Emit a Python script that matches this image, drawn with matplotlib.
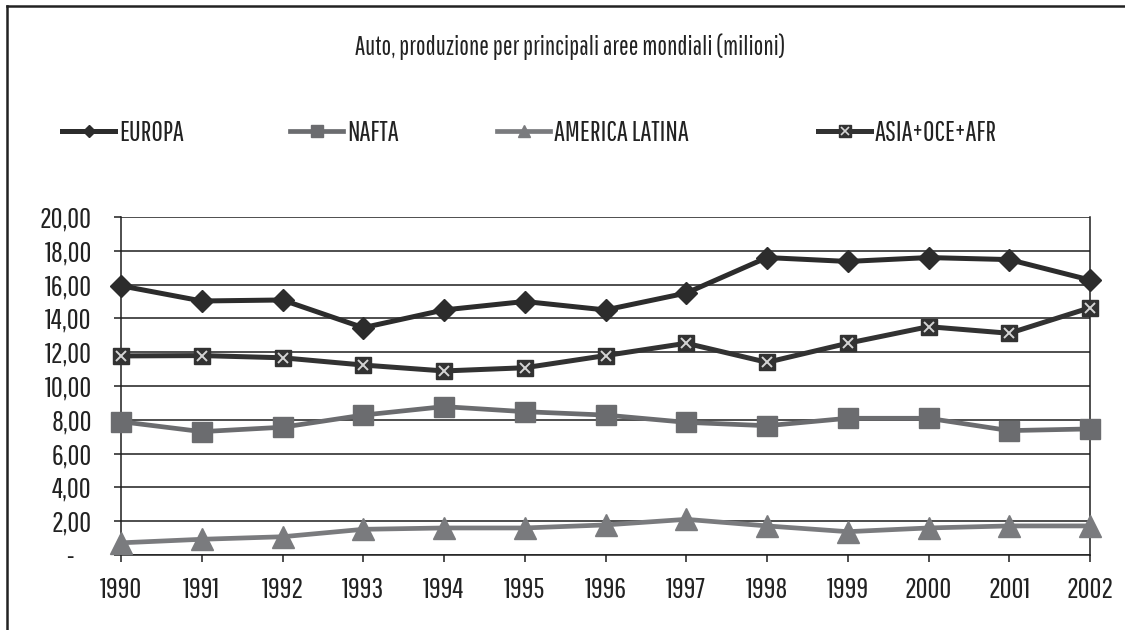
import matplotlib
matplotlib.use("Agg")
import matplotlib.pyplot as plt
from matplotlib.lines import Line2D

plt.rcParams['font.family'] = ['Pathway Gothic One', 'Barlow Condensed', 'DejaVu Sans']

years = [1990, 1991, 1992, 1993, 1994, 1995, 1996, 1997, 1998, 1999, 2000, 2001, 2002]
europa = [15.93, 15.03, 15.09, 13.45, 14.50, 15.00, 14.50, 15.50, 17.60, 17.37, 17.60, 17.48, 16.27]
nafta = [7.89, 7.30, 7.56, 8.28, 8.78, 8.48, 8.28, 7.85, 7.65, 8.09, 8.09, 7.36, 7.46]
america_latina = [0.72, 0.93, 1.08, 1.52, 1.60, 1.60, 1.78, 2.11, 1.72, 1.38, 1.60, 1.72, 1.72]
asia_oce_afr = [11.78, 11.80, 11.67, 11.24, 10.89, 11.08, 11.80, 12.53, 11.40, 12.53, 13.51, 13.12, 14.63]
series_names = ["EUROPA", "NAFTA", "AMERICA LATINA", "ASIA+OCE+AFR"]
yticks = [0, 2, 4, 6, 8, 10, 12, 14, 16, 18, 20]
ytick_labels = ["-    ", "2,00", "4,00", "6,00", "8,00", "10,00", "12,00", "14,00", "16,00", "18,00", "20,00"]
title = "Auto, produzione per principali aree mondiali (milioni)"

W, H = 1125, 630
fig = plt.figure(figsize=(W / 100, H / 100), dpi=100)
ax = fig.add_axes([121 / W, 1 - 555 / H, (1090 - 121) / W, (555 - 217) / H])

c_eu = '#2c2c2c'
c_na = '#6b6c6f'
c_la = '#7a7b7e'
c_as = '#323232'
c_x = '#d4d4d4'

ax.plot(years, europa, color=c_eu, lw=3.6, marker='D', ms=11, mfc=c_eu, mec=c_eu,
        clip_on=False, zorder=5)
ax.plot(years, nafta, color=c_na, lw=3.4, marker='s', ms=14.5, mfc=c_na, mec=c_na,
        clip_on=False, zorder=4)
ax.plot(years, america_latina, color=c_la, lw=3.4, marker='^', ms=16, mfc=c_la, mec=c_la,
        clip_on=False, zorder=4)
ax.plot(years, asia_oce_afr, color=c_as, lw=3.6, marker='s', ms=11, mfc=c_as, mec=c_as,
        clip_on=False, zorder=5)
ax.plot(years, asia_oce_afr, ls='none', marker='x', ms=7.5, mew=1.4, color=c_x,
        clip_on=False, zorder=6)

ax.set_xlim(years[0], years[-1])
ax.set_ylim(0, 20)
ax.set_yticks(yticks)
ax.set_yticklabels(ytick_labels)
ax.set_xticks(years)
ax.set_xticklabels([str(y) for y in years])
ax.grid(axis='y', color='#1e1e1e', lw=1.1)
ax.set_axisbelow(True)
for s in ['left', 'bottom', 'right']:
    ax.spines[s].set_color('#1e1e1e')
    ax.spines[s].set_linewidth(1.1)
ax.spines['top'].set_visible(False)
ax.tick_params(axis='y', length=5, width=1.1, color='#1e1e1e', pad=16, labelsize=21,
               labelcolor='#222222')
ax.tick_params(axis='x', length=5, width=1.1, color='#1e1e1e', pad=11, labelsize=21,
               labelcolor='#222222')

fig.text(570 / W, 1 - 47 / H, title, ha='center', va='center', fontsize=18.5, color='#222222')

# legend entries
handles = [
    Line2D([], [], color=c_eu, lw=3.6, marker='D', ms=6, mfc=c_eu, mec=c_eu),
    Line2D([], [], color=c_na, lw=3.4, marker='s', ms=8, mfc=c_na, mec=c_na),
    Line2D([], [], color=c_la, lw=3.4, marker='^', ms=9, mfc=c_la, mec=c_la),
    (Line2D([], [], color=c_as, lw=3.6, marker='s', ms=9, mfc=c_as, mec=c_as),
     Line2D([], [], ls='none', marker='x', ms=6, mew=1.2, color=c_x)),
]
fs_leg = 20
xpos = [62, 290, 497, 818]
for h, name, x in zip(handles, series_names, xpos):
    leg = fig.legend([h], [name], loc='center left', bbox_to_anchor=(x / W, 1 - 133 / H),
                     frameon=False, borderpad=0, borderaxespad=0,
                     handlelength=53 / (fs_leg * 100 / 72), handletextpad=4 / (fs_leg * 100 / 72),
                     fontsize=fs_leg)
    for t in leg.get_texts():
        t.set_color('#222222')

# outer frame (left and top edges)
fig.add_artist(Line2D([7 / W, 7 / W], [0, 1 - 6 / H], transform=fig.transFigure,
                      color='#222222', lw=1.8))
fig.add_artist(Line2D([7 / W, 1], [1 - 6 / H, 1 - 6 / H], transform=fig.transFigure,
                      color='#222222', lw=1.8))

fig.savefig('out.png', dpi=100)
